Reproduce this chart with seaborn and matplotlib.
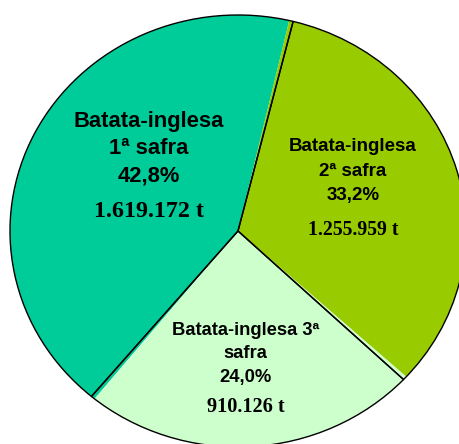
import matplotlib
matplotlib.use("Agg")
import matplotlib.pyplot as plt
import seaborn as sns

# ---- data ----
categories = ["Batata-inglesa 1ª safra", "Batata-inglesa 2ª safra", "Batata-inglesa 3ª safra"]
label_lines = [["Batata-inglesa", "1ª safra"],
               ["Batata-inglesa", "2ª safra"],
               ["Batata-inglesa 3ª", "safra"]]
production_t = [1619172, 1255959, 910126]
slice_colors = ["#00CC99", "#99CC00", "#CCFFCC"]

sns.set_theme(style="white")
plt.rcParams["font.family"] = ["Liberation Sans", "DejaVu Sans"]
palette = sns.color_palette(slice_colors)

W, H = 460, 444
fig = plt.figure(figsize=(W / 100, H / 100), dpi=100)
ax = fig.add_axes([0, 0, 1, 1])

# pie geometry in pixels (elliptical pie)
cx, cy, rx, ry = 238, 231, 228, 216

ax.pie(production_t, colors=palette, startangle=231, counterclock=False,
       radius=1, wedgeprops=dict(linewidth=0))
ax.pie(production_t, colors=palette, startangle=230, counterclock=False,
       radius=1, wedgeprops=dict(facecolor="none", edgecolor="black", linewidth=1.0))

ax.set_xlim(-cx / rx, (W - cx) / rx)
ax.set_ylim(-(H - cy) / ry, cy / ry)
ax.set_aspect("auto")
ax.axis("off")


def px(x, y):
    return (x - cx) / rx, (cy - y) / ry


total = sum(production_t)
pcts = [f"{100 * v / total:.1f}%".replace(".", ",") for v in production_t]
tons = [f"{v:,} t".replace(",", ".") for v in production_t]

# label layout (pixel anchors: center x, baselines of the 4 lines), sizes
layout = [
    dict(x=149, ys=[127.3, 154, 181.7, 217], fs=15.8, fs2=17.3),
    dict(x=353, ys=[151, 175.7, 200, 235], fs=13.5, fs2=14.2),
    dict(x=245.5, ys=[335, 357.7, 381.7, 411.7], fs=13.2, fs2=14.6),
]

for lines, pct, ton, lay in zip(label_lines, pcts, tons, layout):
    texts = lines + [pct]
    for t, yb in zip(texts, lay["ys"][:3]):
        ax.text(*px(lay["x"], yb), t, ha="center", va="baseline",
                fontsize=lay["fs"], fontweight="bold", color="black",
                family=["Liberation Sans", "DejaVu Sans"])
    ax.text(*px(lay["x"], lay["ys"][3]), ton, ha="center", va="baseline",
            fontsize=lay["fs2"], fontweight="bold", color="black",
            family=["Liberation Serif", "DejaVu Serif"])

fig.savefig("out.png", dpi=100, facecolor="white")
